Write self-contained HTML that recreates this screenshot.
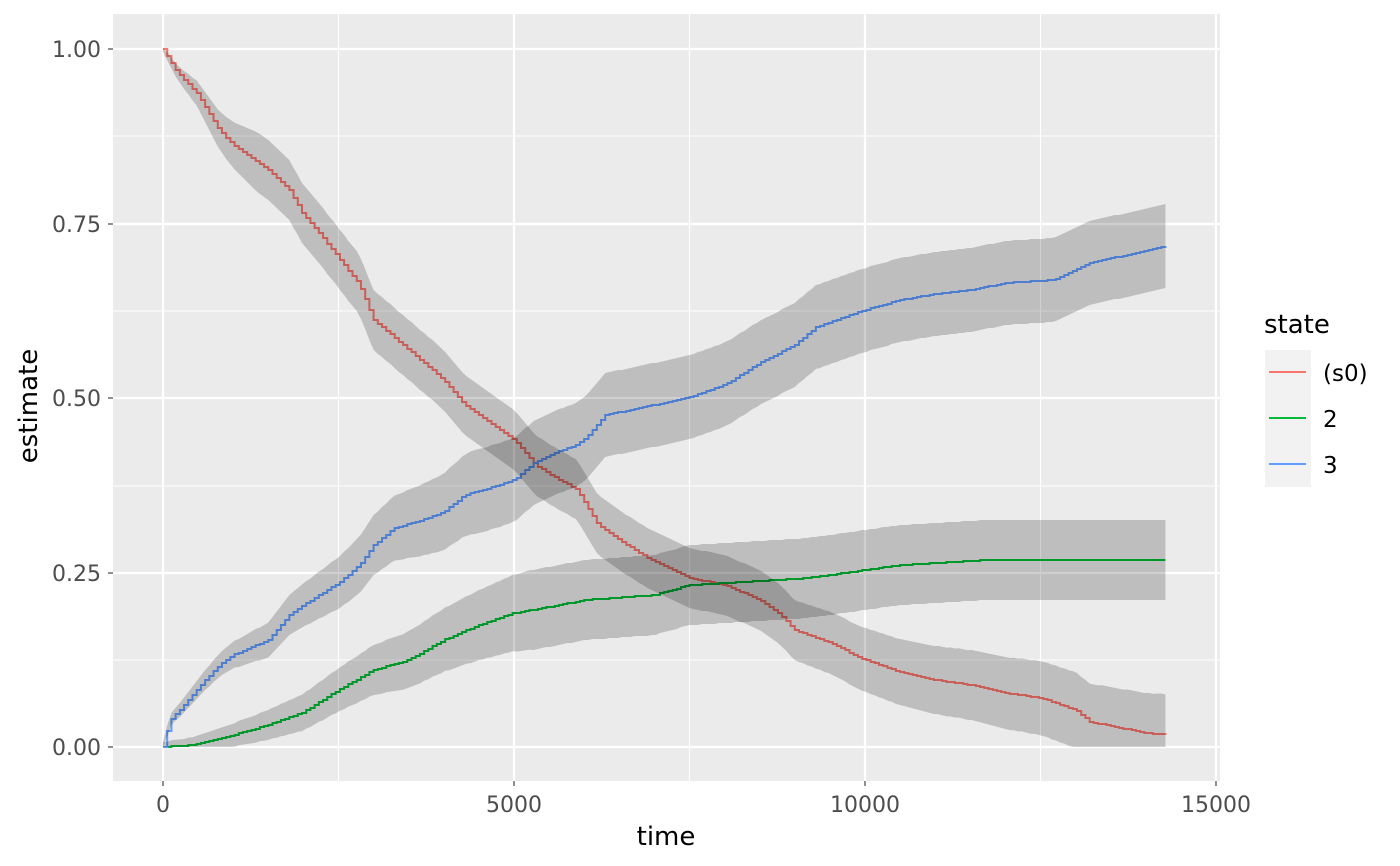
<!DOCTYPE html>
<html><head><meta charset="utf-8"><style>
html,body{margin:0;padding:0;background:#fff;}
svg{display:block;font-family:"DejaVu Sans","Liberation Sans",sans-serif;}
</style></head><body>
<svg id="s" width="1400" height="866" xmlns="http://www.w3.org/2000/svg">
<rect x="113" y="14" width="1107" height="767" fill="#EBEBEB"/>
<g stroke="#fff" stroke-width="1.1">
<line x1="113" x2="1220" y1="136" y2="136"/><line x1="113" x2="1220" y1="311" y2="311"/>
<line x1="113" x2="1220" y1="486" y2="486"/><line x1="113" x2="1220" y1="660" y2="660"/>
<line y1="14" y2="781" x1="338.5" x2="338.5"/><line y1="14" y2="781" x1="689.5" x2="689.5"/>
<line y1="14" y2="781" x1="1040.5" x2="1040.5"/>
</g>
<g stroke="#fff" stroke-width="2.2">
<line x1="113" x2="1220" y1="49" y2="49"/><line x1="113" x2="1220" y1="224" y2="224"/>
<line x1="113" x2="1220" y1="398" y2="398"/><line x1="113" x2="1220" y1="573" y2="573"/>
<line x1="113" x2="1220" y1="747" y2="747"/>
<line y1="14" y2="781" x1="163" x2="163"/><line y1="14" y2="781" x1="514" x2="514"/>
<line y1="14" y2="781" x1="865" x2="865"/><line y1="14" y2="781" x1="1216" x2="1216"/>
</g>
<g id="lines" fill="none" stroke-width="2"></g>
<g id="bands"></g>
<g fill="#4D4D4D" font-size="22" text-anchor="end">
<text x="101" y="57">1.00</text><text x="101" y="232">0.75</text><text x="101" y="406">0.50</text>
<text x="101" y="581">0.25</text><text x="101" y="755">0.00</text>
</g>
<g stroke="#333" stroke-width="1.1">
<line x1="108" x2="113" y1="49" y2="49"/><line x1="108" x2="113" y1="224" y2="224"/><line x1="108" x2="113" y1="398" y2="398"/><line x1="108" x2="113" y1="573" y2="573"/><line x1="108" x2="113" y1="747" y2="747"/>
<line y1="781" y2="786" x1="163" x2="163"/><line y1="781" y2="786" x1="514" x2="514"/><line y1="781" y2="786" x1="865" x2="865"/><line y1="781" y2="786" x1="1216" x2="1216"/>
</g>
<g fill="#4D4D4D" font-size="22" text-anchor="middle">
<text x="163" y="812">0</text><text x="514" y="812">5000</text><text x="865" y="812">10000</text><text x="1216" y="812">15000</text>
</g>
<text x="666" y="845" font-size="26" text-anchor="middle">time</text>
<text transform="translate(37,406) rotate(-90)" font-size="26" text-anchor="middle">estimate</text>
<text x="1264" y="333" font-size="26">state</text>
<rect x="1265" y="350" width="46" height="137" fill="#F2F2F2"/>
<line x1="1269" x2="1306" y1="372" y2="372" stroke="#F8766D" stroke-width="2"/>
<line x1="1269" x2="1306" y1="418" y2="418" stroke="#00BA38" stroke-width="2"/>
<line x1="1269" x2="1306" y1="464" y2="464" stroke="#619CFF" stroke-width="2"/>
<g font-size="23" fill="#000"><text x="1323" y="381">(s0)</text><text x="1323" y="427">2</text><text x="1323" y="473">3</text></g>
</svg>
<script>
var X=t=>163+t*0.0702;
function interp(P,t){for(var i=0;i<P.length-1;i++){if(t<=P[i+1][0]){var f=(t-P[i][0])/(P[i+1][0]-P[i][0]);return [P[i][1]+f*(P[i+1][1]-P[i][1])]}}return [P[P.length-1][1]];}
var S=[
{c:"#F8766D",p:[[0,49],[200,72],[500,95],[800,130],[1000,145],[1500,170],[1800,190],[2000,215],[2300,240],[2500,258],[2800,285],[3000,320],[3500,350],[4000,380],[4300,405],[4700,425],[5000,440],[5300,465],[5600,478],[5900,490],[6200,525],[6500,540],[6900,558],[7500,578],[8000,585],[8500,600],[8800,615],[9000,630],[9500,643],[10000,660],[10500,672],[11000,680],[11500,685],[12000,693],[12500,698],[13000,710],[13200,722],[14000,733],[14300,735]],
 hw:t=>Math.min(30,3+t/50)+(t>9000?(t-9000)/500:0), lo:747},
{c:"#00BA38",p:[[0,747],[400,745],[700,740],[1000,735],[1500,725],[2000,712],[2500,690],[3000,670],[3500,660],[4000,640],[4500,625],[5000,613],[5500,607],[6000,600],[7000,595],[7500,585],[9000,579],[9500,575],[10000,570],[10500,565],[11700,560],[14300,560]],
 hw:t=>Math.min(40,5+t/150), lo:747},
{c:"#619CFF",p:[[0,747],[100,720],[300,705],[600,680],[800,665],[1000,655],[1500,640],[1800,615],[2000,605],[2500,583],[2800,565],[3000,545],[3300,528],[3600,522],[4000,512],[4300,495],[4700,487],[5000,480],[5300,462],[5600,452],[5900,445],[6100,432],[6300,415],[6800,408],[7500,397],[8000,385],[8500,363],[9000,345],[9300,327],[10000,310],[10500,300],[11000,294],[11500,290],[12000,283],[12700,280],[13200,263],[14300,246]],
 hw:t=>Math.min(42,5+t/120), lo:747}];
var ns="http://www.w3.org/2000/svg",L=document.getElementById("lines"),B=document.getElementById("bands");
S.forEach(s=>{
 var d="",up=[],dn=[],prev=null;
 for(var t=0;t<=14300;t+=60){
  var y=Math.round(interp(s.p,t)[0]);var x=X(t);
  if(prev===null)d+="M"+x+","+y;else d+="H"+x+"V"+y;prev=y;
  var h=s.hw(t);up.push(x+","+Math.max(y-h,49));dn.push(x+","+Math.min(y+h,s.lo));
 }
 var pa=document.createElementNS(ns,"path");pa.setAttribute("d",d);pa.setAttribute("stroke",s.c);L.appendChild(pa);
 var pg=document.createElementNS(ns,"polygon");pg.setAttribute("points",up.concat(dn.reverse()).join(" "));pg.setAttribute("fill","rgba(0,0,0,0.19)");B.appendChild(pg);
});
</script>
</body></html>
